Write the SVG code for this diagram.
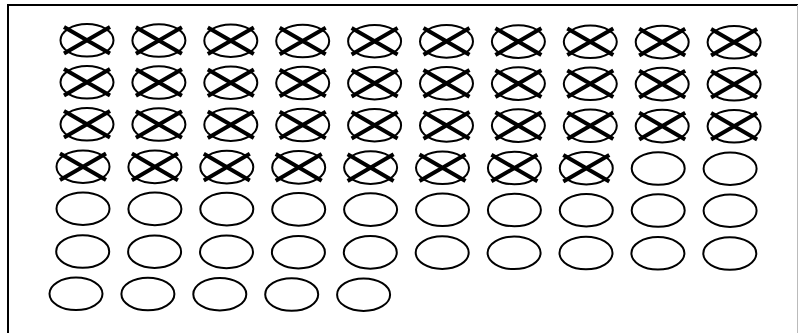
<svg xmlns="http://www.w3.org/2000/svg" xmlns:xlink="http://www.w3.org/1999/xlink" width="798" height="333" viewBox="0 0 798 333">
<style>
.o{fill:#fff;stroke:#000;stroke-width:2}
.x{fill:none;stroke:#000;stroke-width:4}
.b{fill:none;stroke:#000;stroke-width:2}
</style>
<defs>
<g id="plain"><ellipse cx="0" cy="0" rx="26.5" ry="16.3" class="o"/></g>
<g id="crossed"><ellipse cx="0" cy="0" rx="26.5" ry="16.3" class="o"/><path class="x" d="M-23,-13.3 L23,13.3 M23,-13.3 L-23,13.3"/></g>
</defs>
<rect width="798" height="333" fill="#fff"/>
<path class="b" d="M8,333 V5 H798"/>
<line x1="797.5" y1="5" x2="797.5" y2="333" stroke="#bbb" stroke-width="1"/>
<g id="row1">
<g id="n1-1"><use href="#crossed" x="87" y="40.3"/></g>
<g id="n1-2"><use href="#crossed" x="158.9" y="40.5"/></g>
<g id="n1-3"><use href="#crossed" x="230.8" y="40.7"/></g>
<g id="n1-4"><use href="#crossed" x="302.7" y="41"/></g>
<g id="n1-5"><use href="#crossed" x="374.6" y="41.2"/></g>
<g id="n1-6"><use href="#crossed" x="446.5" y="41.4"/></g>
<g id="n1-7"><use href="#crossed" x="518.4" y="41.6"/></g>
<g id="n1-8"><use href="#crossed" x="590.3" y="41.8"/></g>
<g id="n1-9"><use href="#crossed" x="662.2" y="42.1"/></g>
<g id="n1-10"><use href="#crossed" x="734.1" y="42.3"/></g>
</g>
<g id="row2">
<g id="n2-1"><use href="#crossed" x="87" y="82.3"/></g>
<g id="n2-2"><use href="#crossed" x="158.9" y="82.5"/></g>
<g id="n2-3"><use href="#crossed" x="230.8" y="82.7"/></g>
<g id="n2-4"><use href="#crossed" x="302.7" y="83"/></g>
<g id="n2-5"><use href="#crossed" x="374.6" y="83.2"/></g>
<g id="n2-6"><use href="#crossed" x="446.5" y="83.4"/></g>
<g id="n2-7"><use href="#crossed" x="518.4" y="83.6"/></g>
<g id="n2-8"><use href="#crossed" x="590.3" y="83.8"/></g>
<g id="n2-9"><use href="#crossed" x="662.2" y="84.1"/></g>
<g id="n2-10"><use href="#crossed" x="734.1" y="84.3"/></g>
</g>
<g id="row3">
<g id="n3-1"><use href="#crossed" x="87" y="124.3"/></g>
<g id="n3-2"><use href="#crossed" x="158.9" y="124.5"/></g>
<g id="n3-3"><use href="#crossed" x="230.8" y="124.7"/></g>
<g id="n3-4"><use href="#crossed" x="302.7" y="125"/></g>
<g id="n3-5"><use href="#crossed" x="374.6" y="125.2"/></g>
<g id="n3-6"><use href="#crossed" x="446.5" y="125.4"/></g>
<g id="n3-7"><use href="#crossed" x="518.4" y="125.6"/></g>
<g id="n3-8"><use href="#crossed" x="590.3" y="125.8"/></g>
<g id="n3-9"><use href="#crossed" x="662.2" y="126.1"/></g>
<g id="n3-10"><use href="#crossed" x="734.1" y="126.3"/></g>
</g>
<g id="row4">
<g id="n4-1"><use href="#crossed" x="83" y="166.7"/></g>
<g id="n4-2"><use href="#crossed" x="154.9" y="166.9"/></g>
<g id="n4-3"><use href="#crossed" x="226.8" y="167.1"/></g>
<g id="n4-4"><use href="#crossed" x="298.7" y="167.4"/></g>
<g id="n4-5"><use href="#crossed" x="370.6" y="167.6"/></g>
<g id="n4-6"><use href="#crossed" x="442.5" y="167.8"/></g>
<g id="n4-7"><use href="#crossed" x="514.4" y="168"/></g>
<g id="n4-8"><use href="#crossed" x="586.3" y="168.2"/></g>
<g id="n4-9"><use href="#plain" x="658.2" y="168.5"/></g>
<g id="n4-10"><use href="#plain" x="730.1" y="168.7"/></g>
</g>
<g id="row5">
<g id="n5-1"><use href="#plain" x="83" y="208.7"/></g>
<g id="n5-2"><use href="#plain" x="154.9" y="208.9"/></g>
<g id="n5-3"><use href="#plain" x="226.8" y="209.1"/></g>
<g id="n5-4"><use href="#plain" x="298.7" y="209.4"/></g>
<g id="n5-5"><use href="#plain" x="370.6" y="209.6"/></g>
<g id="n5-6"><use href="#plain" x="442.5" y="209.8"/></g>
<g id="n5-7"><use href="#plain" x="514.4" y="210"/></g>
<g id="n5-8"><use href="#plain" x="586.3" y="210.2"/></g>
<g id="n5-9"><use href="#plain" x="658.2" y="210.5"/></g>
<g id="n5-10"><use href="#plain" x="730.1" y="210.7"/></g>
</g>
<g id="row6">
<g id="n6-1"><use href="#plain" x="82.7" y="251.5"/></g>
<g id="n6-2"><use href="#plain" x="154.6" y="251.7"/></g>
<g id="n6-3"><use href="#plain" x="226.5" y="251.9"/></g>
<g id="n6-4"><use href="#plain" x="298.4" y="252.2"/></g>
<g id="n6-5"><use href="#plain" x="370.3" y="252.4"/></g>
<g id="n6-6"><use href="#plain" x="442.2" y="252.6"/></g>
<g id="n6-7"><use href="#plain" x="514.1" y="252.8"/></g>
<g id="n6-8"><use href="#plain" x="586" y="253"/></g>
<g id="n6-9"><use href="#plain" x="657.9" y="253.3"/></g>
<g id="n6-10"><use href="#plain" x="729.8" y="253.5"/></g>
</g>
<g id="row7">
<g id="n7-1"><use href="#plain" x="76" y="293.8"/></g>
<g id="n7-2"><use href="#plain" x="147.9" y="294"/></g>
<g id="n7-3"><use href="#plain" x="219.8" y="294.2"/></g>
<g id="n7-4"><use href="#plain" x="291.7" y="294.5"/></g>
<g id="n7-5"><use href="#plain" x="363.6" y="294.7"/></g>
</g>
<g id="connectors"/>
</svg>
